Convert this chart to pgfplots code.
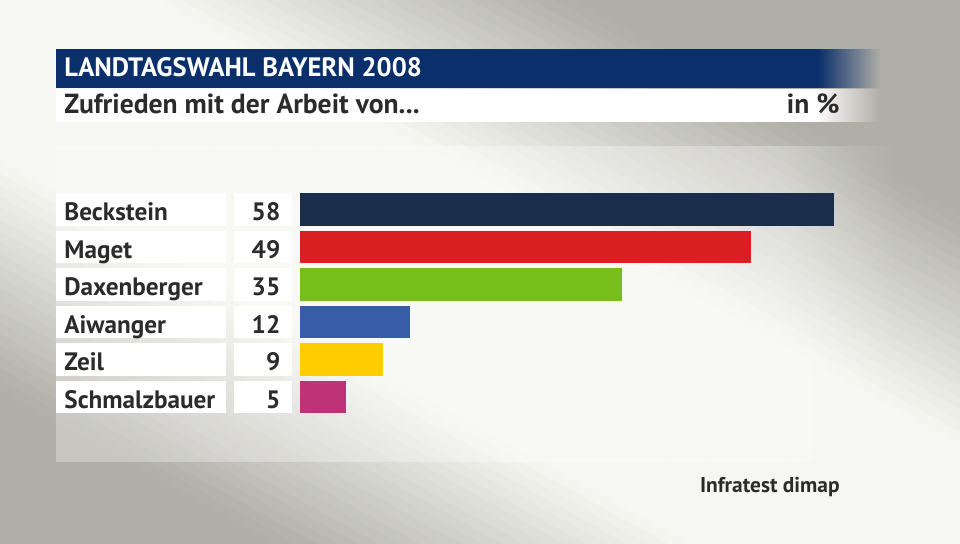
\documentclass[border=0pt]{standalone}
\usepackage{fontspec}
\setmainfont{PT Sans}
\usepackage{pgfplots}
\pgfplotsset{compat=1.18}
\usetikzlibrary{fadings}
\definecolor{bgdark}{rgb}{0.686,0.682,0.655}
\definecolor{bglight}{rgb}{0.965,0.969,0.949}
\definecolor{titleblue}{HTML}{0A2F6A}
\definecolor{txt}{HTML}{2B2B2B}
\definecolor{cA}{HTML}{1A2D4B}
\definecolor{cB}{HTML}{D91F20}
\definecolor{cC}{HTML}{78BE1B}
\definecolor{cD}{HTML}{375CA8}
\definecolor{cE}{HTML}{FFCC00}
\definecolor{cF}{HTML}{C03277}
\tikzfading[name=fadeout, left color=transparent!0, right color=transparent!100]
\begin{document}
\begin{tikzpicture}
\begin{scope}[x=0.5pt,y=-0.5pt]
\path[use as bounding box] (0,0) rectangle (960,544);
\begin{scope}
\clip (0,0) rectangle (960,544);
\fill[bgdark] (0,0) rectangle (960,544);
\begin{scope}[shift={(367,0)}, rotate=-29]
\foreach \d in {-110,-100,...,520} {
  \pgfmathsetmacro\dm{\d+5}
  \pgfmathsetmacro\p{(\dm<-100) ? 0 : ((\dm<100) ? (\dm+100)/2 : ((\dm<320) ? 100 : ((\dm<520) ? (520-\dm)/2 : 0)))}
  \fill[bglight!\p!bgdark] (-1500,\d) rectangle (1500,\d+10.6);
}
\end{scope}
\end{scope}
% panel
\fill[white, opacity=0.3] (56,146) rectangle (780,462);
\fill[white, opacity=0.3, path fading=fadeout] (780,146) rectangle (900,462);
% title bars
\fill[titleblue] (56,49) rectangle (818,88);
\fill[titleblue, path fading=fadeout] (818,49) rectangle (880,88);
\fill[white] (56,89) rectangle (815,122);
\fill[white, path fading=fadeout] (815,89) rectangle (880,122);
\node[anchor=base west, inner sep=0pt, text=white, font=\bfseries\fontsize{13.3}{13.3}\selectfont] at (64,77) {LANDTAGSWAHL BAYERN 2008};
\node[anchor=base west, inner sep=0pt, text=txt, font=\bfseries\fontsize{13.8}{13.8}\selectfont] at (64,114) {Zufrieden mit der Arbeit von...};
\node[anchor=base east, inner sep=0pt, text=txt, font=\bfseries\fontsize{13.8}{13.8}\selectfont] at (840,114) {in \%};
% row boxes
\foreach \i in {0,...,5} {
  \fill[white] (56,193.3+37.5*\i) rectangle (225.7,225.8+37.5*\i);
  \fill[white] (234,193.3+37.5*\i) rectangle (291.7,225.8+37.5*\i);
}
\node[anchor=base east, inner sep=0pt, text=txt, font=\bfseries\fontsize{10.7}{10.7}\selectfont] at (840,492.3) {Infratest dimap};
\coordinate (A) at (300,416);
\end{scope}
\begin{axis}[
  at={(A)}, anchor=south west,
  scale only axis, width=267pt, height=112.5pt,
  xmin=0, xmax=58, ymin=-0.5, ymax=5.5,
  axis line style={draw=none},
  xtick=\empty,
  ytick={0,1,2,3,4,5},
  yticklabels={Schmalzbauer,Zeil,Aiwanger,Daxenberger,Maget,Beckstein},
  major tick length=0pt,
  yticklabel style={anchor=base west, inner sep=0pt, xshift=-118pt, yshift=-5.5pt, text=txt, font=\bfseries\fontsize{12.6}{12.6}\selectfont},
  clip=false,
]
\addplot[xbar, bar width=16.25pt, bar shift=0pt, fill=cA, draw=none] coordinates {(58,5)};
\addplot[xbar, bar width=16.25pt, bar shift=0pt, fill=cB, draw=none] coordinates {(49,4)};
\addplot[xbar, bar width=16.25pt, bar shift=0pt, fill=cC, draw=none] coordinates {(35,3)};
\addplot[xbar, bar width=16.25pt, bar shift=0pt, fill=cD, draw=none] coordinates {(12,2)};
\addplot[xbar, bar width=16.25pt, bar shift=0pt, fill=cE, draw=none] coordinates {(9,1)};
\addplot[xbar, bar width=16.25pt, bar shift=0pt, fill=cF, draw=none] coordinates {(5,0)};
\addplot[draw=none, mark=none, point meta=explicit symbolic, nodes near coords,
  nodes near coords style={anchor=base east, inner sep=0pt, xshift=-9.65pt, yshift=-5.5pt, text=txt, font=\bfseries\fontsize{12.6}{12.6}\selectfont}]
  coordinates {(0,5)[58] (0,4)[49] (0,3)[35] (0,2)[12] (0,1)[9] (0,0)[5]};
\end{axis}
\end{tikzpicture}
\end{document}
